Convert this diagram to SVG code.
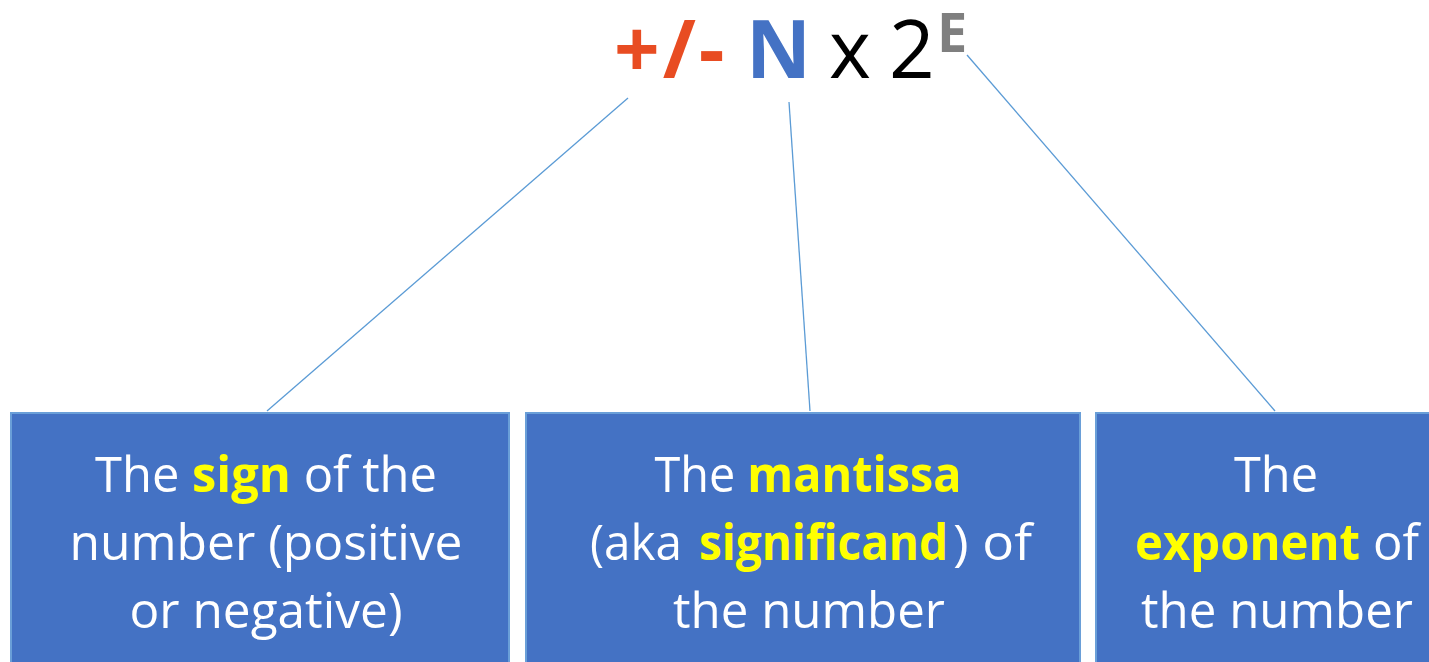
<svg xmlns="http://www.w3.org/2000/svg" width="1429" height="662" viewBox="0 0 1429 662">
<style>
.box{fill:#4472C4;stroke:#6A9FD8;stroke-width:2}
.lbl{font-family:"Open Sans","Liberation Sans",sans-serif;font-size:50px;fill:#FFFFFF;text-anchor:middle}
.lbs{font-family:"Open Sans","Liberation Sans",sans-serif;font-size:50px;fill:#FFFFFF}
.hl{fill:#FFFF00;font-weight:bold}
.conn{stroke:#5B9BD5;stroke-width:1.3;fill:none}
.t{font-family:"Open Sans","Liberation Sans",sans-serif;font-size:80px}
</style>
<rect width="1429" height="662" fill="#FFFFFF"/>
<g id="formula">
<text class="t" x="614" y="78" font-weight="bold" fill="#E84C22" letter-spacing="3">+/-</text>
<text class="t" x="746" y="78" font-weight="bold" fill="#4472C4">N</text>
<text class="t" x="829" y="78" fill="#000000">x</text>
<text class="t" x="889" y="78" fill="#000000">2</text>
<text x="937" y="52" font-family="Open Sans, Liberation Sans, sans-serif" font-size="54" font-weight="bold" fill="#7F7F7F">E</text>
</g>
<g id="connectors">
<line class="conn" x1="628" y1="98" x2="267" y2="411"/>
<line class="conn" x1="789" y1="102" x2="810" y2="411"/>
<line class="conn" x1="967" y1="55" x2="1275" y2="411"/>
</g>
<g id="sign">
<rect class="box" x="11" y="413" width="498" height="260"/>
<text class="lbl" x="266" y="492" textLength="342" lengthAdjust="spacingAndGlyphs">The <tspan class="hl">sign</tspan> of the</text>
<text class="lbl" x="266" y="560" textLength="393" lengthAdjust="spacingAndGlyphs">number (positive</text>
<text class="lbl" x="266" y="628" textLength="273" lengthAdjust="spacingAndGlyphs">or negative)</text>
</g>
<g id="mantissa">
<rect class="box" x="526" y="413" width="554" height="260"/>
<text class="lbl" x="808" y="492" textLength="307" lengthAdjust="spacingAndGlyphs">The <tspan class="hl">mantissa</tspan></text>
<text class="lbs" x="590" y="560" textLength="92" lengthAdjust="spacingAndGlyphs">(aka</text>
<text class="lbs hl" x="699" y="560" textLength="249" lengthAdjust="spacingAndGlyphs">significand</text>
<text class="lbs" x="953" y="560" textLength="79" lengthAdjust="spacingAndGlyphs">) of</text>
<text class="lbl" x="809" y="628" textLength="272" lengthAdjust="spacingAndGlyphs">the number</text>
</g>
<g id="exponent">
<rect class="box" x="1096" y="413" width="360" height="260"/>
<text class="lbl" x="1276" y="492" textLength="84" lengthAdjust="spacingAndGlyphs">The</text>
<text class="lbs hl" x="1135" y="560" textLength="225" lengthAdjust="spacingAndGlyphs">exponent</text>
<text class="lbs" x="1373" y="560" textLength="46" lengthAdjust="spacingAndGlyphs">of</text>
<text class="lbl" x="1277" y="628" textLength="272" lengthAdjust="spacingAndGlyphs">the number</text>
</g>
</svg>
